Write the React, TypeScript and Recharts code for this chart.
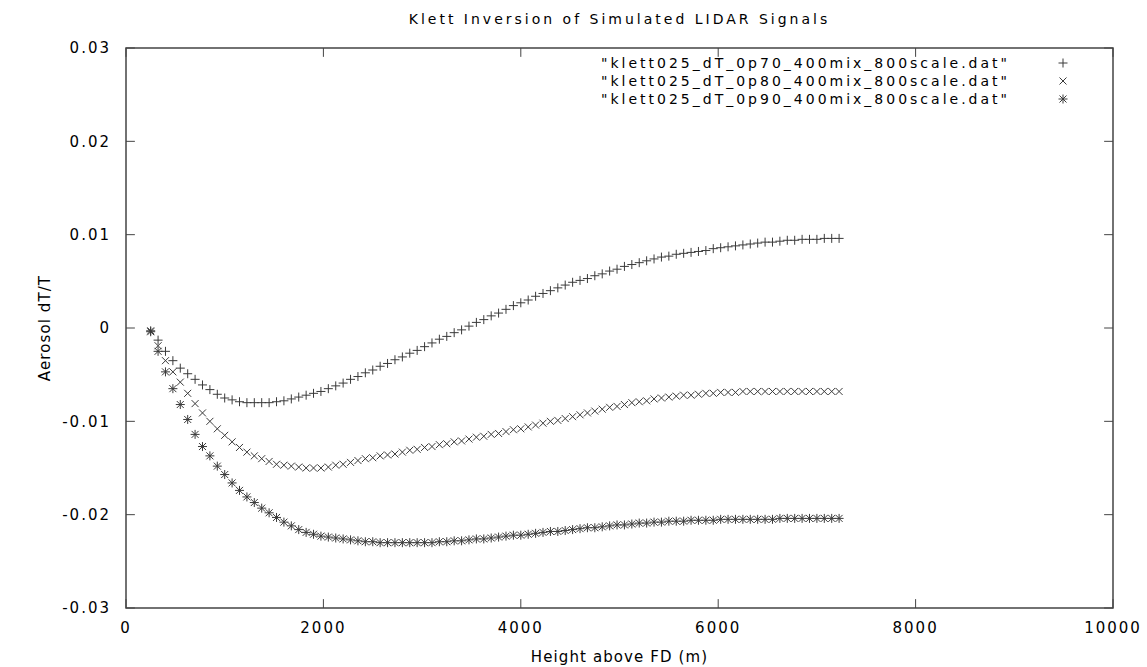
import React from "react"
import { ScatterChart, Scatter, XAxis, YAxis, Legend, ReferenceArea, ReferenceLine } from "recharts"

// sample heights above FD (m)
const heights = [
    250, 325, 400, 475, 550, 625, 700, 775, 850, 925,
    1000, 1075, 1150, 1225, 1300, 1375, 1450, 1525, 1600, 1675,
    1750, 1825, 1900, 1975, 2050, 2125, 2200, 2275, 2350, 2425,
    2500, 2575, 2650, 2725, 2800, 2875, 2950, 3025, 3100, 3175,
    3250, 3325, 3400, 3475, 3550, 3625, 3700, 3775, 3850, 3925,
    4000, 4075, 4150, 4225, 4300, 4375, 4450, 4525, 4600, 4675,
    4750, 4825, 4900, 4975, 5050, 5125, 5200, 5275, 5350, 5425,
    5500, 5575, 5650, 5725, 5800, 5875, 5950, 6025, 6100, 6175,
    6250, 6325, 6400, 6475, 6550, 6625, 6700, 6775, 6850, 6925,
    7000, 7075, 7150, 7225,
]

const dT070 = [
    -0.0003, -0.0013, -0.0025, -0.0035, -0.0043, -0.0049, -0.0055, -0.0061, -0.0066, -0.0071,
    -0.0075, -0.0077, -0.0079, -0.008, -0.008, -0.008, -0.008, -0.0079, -0.0078, -0.0076,
    -0.0074, -0.0072, -0.007, -0.0068, -0.0065, -0.0062, -0.0059, -0.0055, -0.0052, -0.0048,
    -0.0045, -0.0041, -0.0038, -0.0034, -0.0031, -0.0027, -0.0024, -0.002, -0.0016, -0.0012,
    -0.0009, -0.0005, -0.0002, 0.0002, 0.0006, 0.0009, 0.0013, 0.0016, 0.002, 0.0024,
    0.0027, 0.003, 0.0034, 0.0037, 0.004, 0.0043, 0.0046, 0.0049, 0.0051, 0.0053,
    0.0056, 0.0058, 0.0061, 0.0063, 0.0066, 0.0068, 0.007, 0.0072, 0.0074, 0.0076,
    0.0077, 0.0079, 0.008, 0.0081, 0.0082, 0.0083, 0.0085, 0.0086, 0.0087, 0.0088,
    0.0089, 0.009, 0.0091, 0.0092, 0.0092, 0.0093, 0.0094, 0.0094, 0.0095, 0.0095,
    0.0095, 0.0096, 0.0096, 0.0096,
]

const dT080 = [
    -0.0003, -0.0019, -0.0035, -0.0047, -0.0058, -0.007, -0.0081, -0.0091, -0.01, -0.0108,
    -0.0115, -0.0122, -0.0128, -0.0133, -0.0137, -0.014, -0.0143, -0.0146, -0.0147, -0.0148,
    -0.0149, -0.015, -0.015, -0.015, -0.0149, -0.0147, -0.0146, -0.0144, -0.0142, -0.014,
    -0.0139, -0.0137, -0.0136, -0.0135, -0.0133, -0.0131, -0.013, -0.0128, -0.0127, -0.0125,
    -0.0124, -0.0122, -0.0121, -0.0119, -0.0117, -0.0116, -0.0114, -0.0113, -0.0111, -0.0109,
    -0.0108, -0.0106, -0.0104, -0.0102, -0.01, -0.0099, -0.0097, -0.0095, -0.0093, -0.0091,
    -0.0089, -0.0087, -0.0085, -0.0084, -0.0082, -0.008, -0.0079, -0.0078, -0.0076, -0.0075,
    -0.0074, -0.0073, -0.0072, -0.0072, -0.0071, -0.007, -0.007, -0.0069, -0.0069, -0.0069,
    -0.0068, -0.0068, -0.0068, -0.0068, -0.0068, -0.0068, -0.0068, -0.0068, -0.0068, -0.0068,
    -0.0068, -0.0068, -0.0068, -0.0068,
]

const dT090 = [
    -0.0004, -0.0025, -0.0047, -0.0065, -0.0082, -0.0098, -0.0114, -0.0127, -0.0137, -0.0148,
    -0.0157, -0.0166, -0.0174, -0.0181, -0.0187, -0.0193, -0.0198, -0.0203, -0.0208, -0.0212,
    -0.0216, -0.0219, -0.0221, -0.0223, -0.0224, -0.0225, -0.0226, -0.0227, -0.0228, -0.0229,
    -0.0229, -0.023, -0.023, -0.023, -0.023, -0.023, -0.023, -0.023, -0.023, -0.0229,
    -0.0229, -0.0228, -0.0228, -0.0227, -0.0226, -0.0226, -0.0225, -0.0224, -0.0223, -0.0222,
    -0.0222, -0.0221, -0.022, -0.0219, -0.0218, -0.0218, -0.0217, -0.0216, -0.0215, -0.0214,
    -0.0214, -0.0213, -0.0212, -0.0211, -0.0211, -0.021, -0.0209, -0.0209, -0.0208, -0.0208,
    -0.0207, -0.0207, -0.0207, -0.0206, -0.0206, -0.0206, -0.0206, -0.0205, -0.0205, -0.0205,
    -0.0205, -0.0205, -0.0205, -0.0205, -0.0205, -0.0204, -0.0204, -0.0204, -0.0204, -0.0204,
    -0.0204, -0.0204, -0.0204, -0.0204,
]

const seriesNames = [
    '"klett025_dT_0p70_400mix_800scale.dat"',
    '"klett025_dT_0p80_400mix_800scale.dat"',
    '"klett025_dT_0p90_400mix_800scale.dat"',
]

const xTicks = [0, 2000, 4000, 6000, 8000, 10000]
const yTicks = [-0.03, -0.02, -0.01, 0, 0.01, 0.02, 0.03]

const X_MIN = 0
const X_MAX = 10000
const Y_MIN = -0.03
const Y_MAX = 0.03
// gnuplot draws short inward ticks on all four sides (about 9px)
const TICK_X = 90
const TICK_Y = 0.00095

const FONT = "'DejaVu Sans', sans-serif"
const INK = "#3a3a3a"
const FRAME = "#444"

const toPoints = (ys: number[]) => heights.map((x, i) => ({ x, y: ys[i] }))

function markPath(kind: string, cx: number, cy: number) {
    const p = `M${cx - 4.5},${cy}H${cx + 4.5}M${cx},${cy - 4.5}V${cy + 4.5}`
    const c = `M${cx - 3.5},${cy - 3.5}L${cx + 3.5},${cy + 3.5}M${cx - 3.5},${cy + 3.5}L${cx + 3.5},${cy - 3.5}`
    if (kind === "plus") return p
    if (kind === "cross") return c
    return p + c
}

const shapeOf = (kind: string) => (props: any) => {
    const { cx, cy } = props
    if (cx == null || cy == null) return <g />
    return <path d={markPath(kind, cx, cy)} stroke={INK} strokeWidth={1} fill="none" />
}

const kinds = ["plus", "cross", "star"]

function KeyBox() {
    return (
        <div style={{ fontFamily: FONT, fontSize: 14, letterSpacing: 3, color: "#000" }}>
            {seriesNames.map((name, i) => (
                <div key={i} style={{ display: "flex", height: 18, alignItems: "center" }}>
                    <div style={{ width: 450, textAlign: "right", whiteSpace: "nowrap" }}>{name}</div>
                    <svg width={106} height={18}>
                        <path d={markPath(kinds[i], 53, 9)} stroke={INK} strokeWidth={1} fill="none" />
                    </svg>
                </div>
            ))}
        </div>
    )
}

const tickStyle = { fontSize: 15, fill: "#000", fontFamily: FONT, letterSpacing: 2 }

export default function App() {
    return (
        <div style={{ position: "relative", width: 1147, height: 667, background: "#fff" }}>
            <style>{"body{margin:0}"}</style>
            <div
                style={{
                    position: "absolute",
                    left: 126,
                    width: 987,
                    top: 10,
                    textAlign: "center",
                    fontFamily: FONT,
                    fontSize: 14,
                    letterSpacing: 3,
                    lineHeight: "18px",
                }}
            >
                Klett Inversion of Simulated LIDAR Signals
            </div>
            <ScatterChart width={1147} height={667} margin={{ top: 48, right: 34, bottom: 0, left: 0 }}>
                <XAxis
                    dataKey="x"
                    type="number"
                    domain={[X_MIN, X_MAX]}
                    ticks={xTicks}
                    interval={0}
                    height={59}
                    tickSize={0}
                    tickMargin={14}
                    allowDataOverflow
                    axisLine={false}
                    tickLine={false}
                    tick={tickStyle}
                    label={{
                        value: "Height above FD (m)",
                        position: "insideBottom",
                        offset: 5,
                        style: { fontSize: 15, fill: "#000", fontFamily: FONT, letterSpacing: 1.1 },
                    }}
                />
                <YAxis
                    dataKey="y"
                    type="number"
                    domain={[Y_MIN, Y_MAX]}
                    ticks={yTicks}
                    interval={0}
                    width={126}
                    tickSize={0}
                    tickMargin={15}
                    allowDataOverflow
                    axisLine={false}
                    tickLine={false}
                    tick={tickStyle}
                    tickFormatter={(v: number) => (v === 0 ? "0" : v.toFixed(2))}
                    label={{
                        position: "insideLeft",
                        content: (p: any) => {
                            const vb = p.viewBox
                            const cx = vb.x + 45
                            const cy = vb.y + vb.height / 2
                            return (
                                <text
                                    x={cx}
                                    y={cy}
                                    transform={`rotate(-90 ${cx} ${cy})`}
                                    textAnchor="middle"
                                    dominantBaseline="central"
                                    style={{ fontSize: 15, fill: "#000", fontFamily: FONT, letterSpacing: 1.1 }}
                                >
                                    Aerosol dT/T
                                </text>
                            )
                        },
                    }}
                />
                <ReferenceArea
                    x1={X_MIN}
                    x2={X_MAX}
                    y1={Y_MIN}
                    y2={Y_MAX}
                    fill="none"
                    fillOpacity={0}
                    stroke={FRAME}
                    strokeWidth={1.5}
                    ifOverflow="visible"
                />
                {xTicks.map((t) => (
                    <ReferenceLine
                        key={"xb" + t}
                        segment={[{ x: t, y: Y_MIN }, { x: t, y: Y_MIN + TICK_Y }]}
                        stroke={FRAME}
                        ifOverflow="visible"
                    />
                ))}
                {xTicks.map((t) => (
                    <ReferenceLine
                        key={"xt" + t}
                        segment={[{ x: t, y: Y_MAX }, { x: t, y: Y_MAX - TICK_Y }]}
                        stroke={FRAME}
                        ifOverflow="visible"
                    />
                ))}
                {yTicks.map((t) => (
                    <ReferenceLine
                        key={"yl" + t}
                        segment={[{ x: X_MIN, y: t }, { x: X_MIN + TICK_X, y: t }]}
                        stroke={FRAME}
                        ifOverflow="visible"
                    />
                ))}
                {yTicks.map((t) => (
                    <ReferenceLine
                        key={"yr" + t}
                        segment={[{ x: X_MAX, y: t }, { x: X_MAX - TICK_X, y: t }]}
                        stroke={FRAME}
                        ifOverflow="visible"
                    />
                ))}
                <Legend
                    layout="vertical"
                    align="center"
                    verticalAlign="middle"
                    wrapperStyle={{ top: 54, left: 560, width: 560 }}
                    content={() => <KeyBox />}
                />
                <Scatter name={seriesNames[0]} data={toPoints(dT070)} shape={shapeOf("plus")} isAnimationActive={false} />
                <Scatter name={seriesNames[1]} data={toPoints(dT080)} shape={shapeOf("cross")} isAnimationActive={false} />
                <Scatter name={seriesNames[2]} data={toPoints(dT090)} shape={shapeOf("star")} isAnimationActive={false} />
            </ScatterChart>
        </div>
    )
}
